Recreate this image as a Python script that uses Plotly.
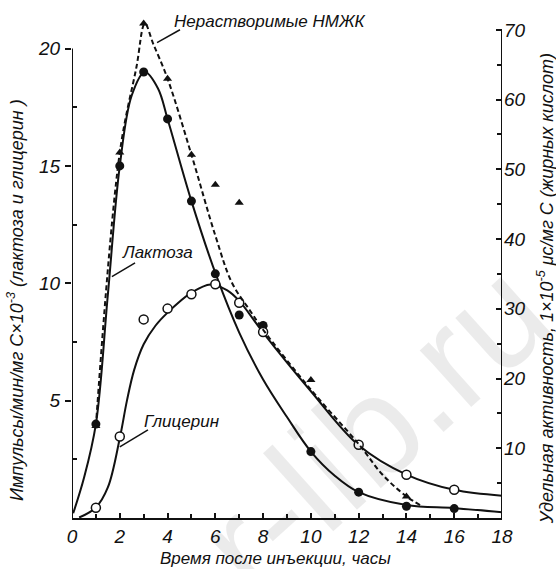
import plotly.graph_objects as go

# Measured points: lactose and glycerol (left axis), insoluble fatty acids (right axis)
hours_lactose = [1, 2, 3, 4, 5, 6, 7, 8, 10, 12, 14, 16]
lactose = [4.0, 15.0, 19.0, 17.0, 13.5, 10.4, 8.65, 8.2, 2.83, 1.1, 0.5, 0.4]

hours_glycerol = [1, 2, 3, 4, 5, 6, 7, 8, 12, 14, 16]
glycerol = [0.44, 3.47, 8.46, 8.92, 9.53, 9.96, 9.17, 7.92, 3.12, 1.84, 1.2]

hours_fa = [1, 2, 3, 4, 5, 6, 7, 8, 10, 14]
fatty_acids = [13.2, 52.4, 70.9, 63.0, 52.1, 47.8, 45.2, 27.7, 19.8, 3.1]

# Hand-drawn smoothed curves through the data
lactose_curve_x = [0.05, 0.5, 1, 1.5, 2, 2.5, 3.05, 3.6, 4, 5, 6.05, 7, 8, 9, 10, 11, 12, 14, 16, 18]
lactose_curve_y = [0.2, 1.7, 4, 9.5, 15, 18, 19, 18.3, 17, 13.5, 10.3, 7.9, 5.9, 4.3, 2.83, 1.8, 1.1, 0.55, 0.42, 0.25]

glycerol_curve_x = [0.3, 1, 1.5, 2, 2.3, 2.6, 3, 3.5, 4, 5, 5.8, 6.5, 7, 8, 10, 12, 14, 16, 18]
glycerol_curve_y = [0.02, 0.45, 1.3, 3.4, 5.0, 6.3, 7.4, 8.2, 8.75, 9.6, 9.95, 9.7, 9.25, 7.9, 5.4, 3.1, 1.85, 1.2, 0.95]

fa_curve_x = [1, 2, 2.7, 3.05, 3.4, 4, 5, 6, 6.7, 7.5, 8, 10, 12, 13, 14, 14.6]
fa_curve_y = [13.2, 52.4, 64.7, 70.9, 68.0, 63.0, 52.1, 40.5, 33.7, 29.5, 27.0, 18.4, 10.6, 6.2, 3.1, 1.8]

x_ticks = [0, 2, 4, 6, 8, 10, 12, 14, 16, 18]
left_ticks = [5, 10, 15, 20]
right_ticks = [10, 20, 30, 40, 50, 60, 70]

FONT = "Liberation Sans Narrow, Liberation Sans, Arial, sans-serif"
INK = "#111111"

fig = go.Figure()

fig.add_trace(go.Scatter(x=fa_curve_x, y=fa_curve_y, yaxis="y2", mode="lines",
                         line=dict(color=INK, width=2, dash="5px,3px", shape="spline"),
                         hoverinfo="skip", showlegend=False))
fig.add_trace(go.Scatter(x=lactose_curve_x, y=lactose_curve_y, mode="lines",
                         line=dict(color=INK, width=2, shape="spline"),
                         hoverinfo="skip", showlegend=False))
fig.add_trace(go.Scatter(x=glycerol_curve_x, y=glycerol_curve_y, mode="lines",
                         line=dict(color=INK, width=2, shape="spline"),
                         hoverinfo="skip", showlegend=False))

fig.add_trace(go.Scatter(x=hours_fa, y=fatty_acids, yaxis="y2", mode="markers",
                         marker=dict(symbol="triangle-up", size=8, color=INK),
                         name="Нерастворимые НМЖК", showlegend=False))
fig.add_trace(go.Scatter(x=hours_lactose, y=lactose, mode="markers",
                         marker=dict(symbol="circle", size=9, color=INK),
                         name="Лактоза", showlegend=False))
fig.add_trace(go.Scatter(x=hours_glycerol, y=glycerol, mode="markers",
                         marker=dict(symbol="circle", size=9, color="white",
                                     line=dict(color=INK, width=1.5)),
                         name="Глицерин", showlegend=False))

tickfont = dict(family=FONT, size=19, color=INK, style="italic")

fig.update_layout(
    width=556, height=569,
    margin=dict(l=72, r=54, t=18, b=51),
    paper_bgcolor="white", plot_bgcolor="white",
    xaxis=dict(range=[0, 18], tickvals=x_ticks, showgrid=False, zeroline=False,
               showline=True, linecolor=INK, linewidth=2,
               ticks="inside", ticklen=5, tickwidth=1.5, tickcolor=INK,
               minor=dict(dtick=1, ticks="inside", ticklen=4, tickwidth=1.5, tickcolor=INK),
               tickfont=tickfont),
    yaxis=dict(range=[0, 21.3], tickvals=left_ticks, showgrid=False, zeroline=False,
               showline=False, ticks="outside", ticklen=6, tickwidth=1.5, tickcolor=INK,
               minor=dict(tickvals=[2.5, 7.5, 12.5, 17.5], ticks="inside", ticklen=5,
                          tickwidth=1.5, tickcolor=INK),
               ticklabelstandoff=1, tickfont=tickfont),
    yaxis2=dict(range=[0, 71.7], tickvals=right_ticks, overlaying="y", side="right",
                showgrid=False, zeroline=False, showline=False,
                ticks="inside", ticklen=6, tickwidth=1.5, tickcolor=INK,
                minor=dict(tickvals=[5, 15, 25, 35, 45, 55, 65], ticks="inside", ticklen=5,
                           tickwidth=1.5, tickcolor=INK),
                ticklabelstandoff=1, tickfont=tickfont),
    showlegend=False,
)

# Axis spines: left spine ends at 20, right spine at 70
fig.add_shape(type="line", xref="x", yref="y", x0=0, x1=0, y0=0, y1=20,
              line=dict(color=INK, width=2))
fig.add_shape(type="line", xref="x", yref="y2", x0=18, x1=18, y0=0, y1=70,
              line=dict(color=INK, width=2))

# Leader lines for curve labels
fig.add_shape(type="line", xref="x", yref="y", x0=4.52, y0=20.8, x1=3.56, y1=20.25,
              line=dict(color=INK, width=1.5))
fig.add_shape(type="line", xref="x", yref="y", x0=2.64, y0=10.87, x1=1.67, y1=10.28,
              line=dict(color=INK, width=1.5))
fig.add_shape(type="line", xref="x", yref="y", x0=3.18, y0=3.75, x1=2.0, y1=3.03,
              line=dict(color=INK, width=1.5))

labfont = dict(family=FONT, size=17, color=INK, style="italic")
fig.add_annotation(text="Нерастворимые НМЖК", x=4.18, y=21.15, xref="x", yref="y",
                   xanchor="left", yanchor="middle", showarrow=False, font=labfont)
fig.add_annotation(text="Лактоза", x=2.0, y=11.3, xref="x", yref="y",
                   xanchor="left", yanchor="middle", showarrow=False, font=labfont)
fig.add_annotation(text="Глицерин", x=2.93, y=4.09, xref="x", yref="y",
                   xanchor="left", yanchor="middle", showarrow=False, font=labfont)

titlefont = dict(family=FONT, size=18, color=INK, style="italic")
fig.add_annotation(text="Время после инъекции, часы", x=0.474, y=-0.080,
                   xref="paper", yref="paper", xanchor="center", yanchor="middle",
                   showarrow=False, font=dict(family=FONT, size=17, color=INK, style="italic"))
fig.add_annotation(text="Импульсы/мин/мг C×10<sup>-3</sup> (лактоза и глицерин )",
                   x=-0.1326, y=0.436, xref="paper", yref="paper", textangle=-90,
                   xanchor="center", yanchor="middle", showarrow=False, font=titlefont)
fig.add_annotation(text="Удельная активность, 1×10<sup>-5</sup> μс/мг С (жирных кислот)",
                   x=1.102, y=-0.016, xref="paper", yref="paper", textangle=-90,
                   xanchor="center", yanchor="bottom", showarrow=False, font=titlefont)

# Faint publisher watermark
fig.add_annotation(text="r-lib.ru", x=0.70, y=0.18, xref="paper", yref="paper",
                   xanchor="center", yanchor="middle",
                   textangle=-42, showarrow=False,
                   font=dict(family="Liberation Sans, Arial, sans-serif", size=145,
                             color="rgba(0,0,0,0.08)"))

fig.write_html("out.html")
